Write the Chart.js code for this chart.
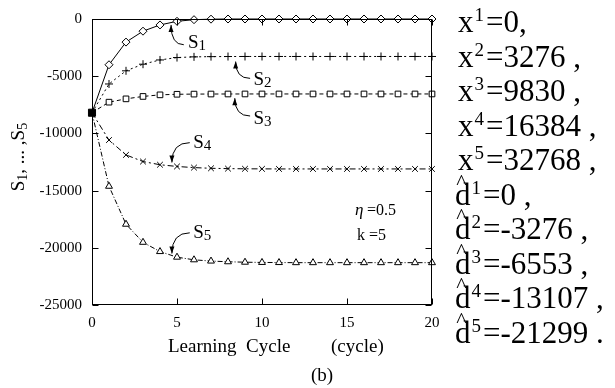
<!DOCTYPE html>
<html lang="en">

<head>
    <meta charset="UTF-8">
    <title>Learning Cycle</title>
    <script src="https://cdn.jsdelivr.net/npm/chart.js"></script>
    <style>
        html, body { margin: 0; padding: 0; background: #fff; }
        #wrap { width: 615px; height: 388px; }
    </style>
</head>

<body>
    <div id="wrap"><canvas id="cycleChart" width="615" height="388"></canvas></div>

<script>
    // learning cycles on the x axis
    const cycles = [0, 1, 2, 3, 4, 5, 6, 7, 8, 9, 10, 11, 12, 13, 14, 15, 16, 17, 18, 19, 20];

    // S1 ... S5 per cycle
    const s1 = [-8192, -4000, -2020, -1065, -520, -200, -60, -15, 0, 0, 0, 0, 0, 0, 0, 0, 0, 0, 0, 0, 0];
    const s2 = [-8192, -5680, -4530, -3950, -3580, -3370, -3310, -3290, -3280, -3276, -3276, -3276, -3276, -3276, -3276, -3276, -3276, -3276, -3276, -3276, -3276];
    const s3 = [-8192, -7270, -6980, -6770, -6630, -6580, -6565, -6558, -6555, -6553, -6553, -6553, -6553, -6553, -6553, -6553, -6553, -6553, -6553, -6553, -6553];
    const s4 = [-8192, -10580, -11880, -12460, -12740, -12890, -12990, -13050, -13080, -13095, -13100, -13107, -13107, -13107, -13107, -13107, -13107, -13107, -13107, -13107, -13107];
    const s5 = [-8192, -14620, -17940, -19520, -20330, -20820, -21050, -21160, -21220, -21260, -21280, -21290, -21299, -21299, -21299, -21299, -21299, -21299, -21299, -21299, -21299];

    // axis ticks
    const xTicks = [0, 5, 10, 15, 20];
    const yTicks = [0, -5000, -10000, -15000, -20000, -25000];

    // inputs and targets listed at the right
    const xInputs = [0, 3276, 9830, 16384, 32768];
    const dTargets = [0, -3276, -6553, -13107, -21299];

    const serif = '"Liberation Serif", "Times New Roman", serif';

    function pts(ys) {
        return cycles.map(function (c, i) { return { x: c, y: ys[i] }; });
    }

    // the shared start point is only marked once, as a filled square on S3
    function serie(label, ys, style, radius, dash, marksStart) {
        const fill = ys.map(function (v, i) { return i === 0 ? '#000' : '#fff'; });
        const size = ys.map(function (v, i) { return i === 0 ? (marksStart ? 5 : 0) : radius; });
        return {
            label: label,
            data: pts(ys),
            borderColor: '#000',
            borderWidth: 1,
            borderDash: dash,
            tension: 0,
            fill: false,
            pointStyle: style,
            pointRadius: size,
            pointBorderWidth: 1,
            pointBorderColor: '#000',
            pointBackgroundColor: fill,
            clip: false
        };
    }

    // callout labels with curved arrows (data coords)
    const callouts = [
        { sub: '1', text: [5.65, -2080], tail: [5.4, -2250], tip: [4.65, -520] },
        { sub: '2', text: [9.5, -5360], tail: [9.3, -5190], tip: [8.45, -3720] },
        { sub: '3', text: [9.5, -8740], tail: [9.3, -8480], tip: [8.4, -6920] },
        { sub: '4', text: [5.95, -10810], tail: [5.75, -10810], tip: [4.7, -12540] },
        { sub: '5', text: [5.95, -18690], tail: [5.75, -18690], tip: [4.7, -20500] }
    ];

    function drawArrow(ctx, a, b) {
        const cx = b.x, cy = a.y;
        ctx.beginPath();
        ctx.moveTo(a.x, a.y);
        ctx.quadraticCurveTo(cx, cy, b.x, b.y);
        ctx.stroke();
        const ang = Math.atan2(b.y - cy, b.x - cx);
        ctx.beginPath();
        ctx.moveTo(b.x, b.y);
        ctx.lineTo(b.x - 7 * Math.cos(ang) + 2.5 * Math.sin(ang), b.y - 7 * Math.sin(ang) - 2.5 * Math.cos(ang));
        ctx.lineTo(b.x - 7 * Math.cos(ang) - 2.5 * Math.sin(ang), b.y - 7 * Math.sin(ang) + 2.5 * Math.cos(ang));
        ctx.closePath();
        ctx.fill();
    }

    function drawRow(ctx, left, base, sym, idx, text, hat) {
        ctx.textAlign = 'left';
        ctx.font = '31px ' + serif;
        ctx.fillText(sym, left, base);
        const w = ctx.measureText(sym).width;
        if (hat) {
            ctx.font = '22px ' + serif;
            ctx.textAlign = 'center';
            ctx.fillText('^', left + w * 0.42, base - 16);
            ctx.textAlign = 'left';
        }
        ctx.font = '19px ' + serif;
        ctx.fillText(String(idx), left + w + 1, base - 11);
        const sw = ctx.measureText(String(idx)).width;
        ctx.font = '31px ' + serif;
        ctx.fillText(text, left + w + sw + 3, base);
    }

    const decor = {
        id: 'decor',
        afterDatasetsDraw(chart) {
            const ctx = chart.ctx;
            const a = chart.chartArea;
            const xs = chart.scales.x, ys = chart.scales.y;
            const L = Math.round(a.left) + 0.5, R = Math.round(a.right) - 0.5;
            const T = Math.round(a.top) + 0.5, B = Math.round(a.bottom) - 0.5;
            ctx.save();
            ctx.strokeStyle = '#000';
            ctx.fillStyle = '#000';
            ctx.lineWidth = 1;
            ctx.setLineDash([]);
            ctx.strokeRect(L, T, R - L, B - T);

            // inner tick marks
            ctx.beginPath();
            yTicks.forEach(function (v) {
                const py = Math.round(ys.getPixelForValue(v)) + 0.5;
                ctx.moveTo(L, py); ctx.lineTo(L + 6, py);
                ctx.moveTo(R, py); ctx.lineTo(R - 6, py);
            });
            xTicks.forEach(function (v) {
                const px = Math.round(xs.getPixelForValue(v)) + 0.5;
                ctx.moveTo(px, B); ctx.lineTo(px, B - 6);
                ctx.moveTo(px, T); ctx.lineTo(px, T + 6);
            });
            ctx.stroke();

            // S labels and arrows
            ctx.textBaseline = 'middle';
            callouts.forEach(function (c) {
                const tx = xs.getPixelForValue(c.text[0]), ty = ys.getPixelForValue(c.text[1]);
                ctx.font = '19px ' + serif;
                ctx.textAlign = 'left';
                ctx.fillText('S', tx, ty);
                const w = ctx.measureText('S').width;
                ctx.font = '15px ' + serif;
                ctx.fillText(c.sub, tx + w, ty + 3);
                drawArrow(ctx,
                    { x: xs.getPixelForValue(c.tail[0]), y: ys.getPixelForValue(c.tail[1]) },
                    { x: xs.getPixelForValue(c.tip[0]), y: ys.getPixelForValue(c.tip[1]) });
            });

            // parameters
            ctx.font = 'italic 17px ' + serif;
            ctx.fillText('\u03b7', 355, 211);
            ctx.font = '16px ' + serif;
            ctx.fillText(' =0.5', 363, 211);
            ctx.fillText('k =5', 357, 236);

            // axis titles
            ctx.font = '19px ' + serif;
            ctx.fillText('Learning  Cycle', 168, 347);
            ctx.fillText('(cycle)', 331, 347);
            ctx.textAlign = 'center';
            ctx.fillText('(b)', 322, 376);

            ctx.save();
            ctx.translate(19, 157);
            ctx.rotate(-Math.PI / 2);
            ctx.textAlign = 'left';
            const parts = [['S', 0, 19], ['1', 4, 14], [', ... ,', 0, 19], ['S', 0, 19], ['5', 4, 14]];
            let tw = 0;
            parts.forEach(function (p) { ctx.font = p[2] + 'px ' + serif; tw += ctx.measureText(p[0]).width; });
            let cx = -tw / 2;
            parts.forEach(function (p) {
                ctx.font = p[2] + 'px ' + serif;
                ctx.fillText(p[0], cx, p[1]);
                cx += ctx.measureText(p[0]).width;
            });
            ctx.restore();

            // inputs and targets
            ctx.textBaseline = 'alphabetic';
            xInputs.forEach(function (v, i) {
                const tail = i === 0 ? ',' : ' ,';
                drawRow(ctx, 458, 32 + 34.5 * i, 'x', i + 1, '=' + v + tail, false);
            });
            dTargets.forEach(function (v, i) {
                const tail = i === dTargets.length - 1 ? ' .' : ' ,';
                drawRow(ctx, 455, 32 + 34.5 * (i + 5), 'd', i + 1, '=' + v + tail, true);
            });
            ctx.restore();
        }
    };

    const dados = {
        datasets: [
            serie('S1', s1, 'rectRot', 4, [], false),
            serie('S2', s2, 'cross', 4, [2, 3], false),
            serie('S3', s3, 'rect', 4, [4, 3], true),
            serie('S4', s4, 'crossRot', 4, [6, 3, 2, 3], false),
            serie('S5', s5, 'triangle', 4, [5, 2, 1, 2], false)
        ]
    };

    const config = {
        type: 'line',
        data: dados,
        options: {
            responsive: false,
            animation: false,
            layout: { padding: { top: 16, right: 183, left: 0, bottom: 0 } },
            plugins: { legend: { display: false }, tooltip: { enabled: false } },
            scales: {
                x: {
                    type: 'linear',
                    min: 0, max: 20,
                    grid: { display: false, drawTicks: false },
                    border: { display: false },
                    afterFit: function (s) { s.height = 83; },
                    afterBuildTicks: function (s) { s.ticks = xTicks.map(function (v) { return { value: v }; }); },
                    ticks: {
                        padding: 9,
                        color: '#000',
                        font: { family: serif, size: 15 },
                        maxRotation: 0,
                        callback: function (v) { return String(v); }
                    }
                },
                y: {
                    min: -25000, max: 0,
                    grid: { display: false, drawTicks: false },
                    border: { display: false },
                    afterFit: function (s) { s.width = 92; },
                    afterBuildTicks: function (s) { s.ticks = yTicks.map(function (v) { return { value: v }; }); },
                    ticks: {
                        padding: 10,
                        color: '#000',
                        font: { family: serif, size: 15 },
                        callback: function (v) { return String(v); }
                    }
                }
            }
        },
        plugins: [decor]
    };

    new Chart(document.getElementById('cycleChart'), config);
</script>
</body>

</html>
